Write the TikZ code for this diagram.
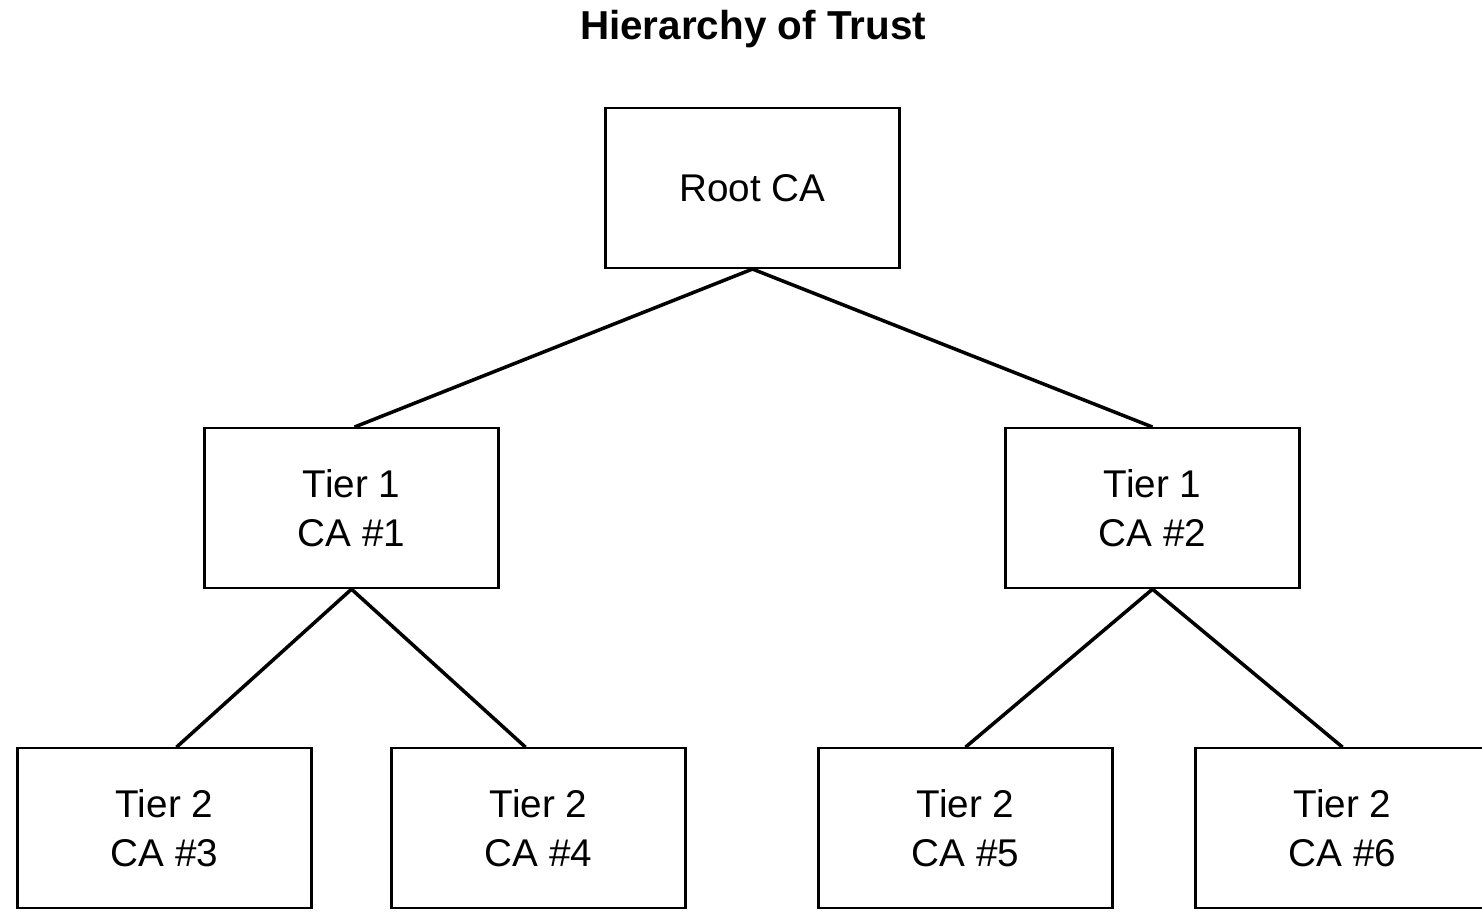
\documentclass[tikz,border=0pt]{standalone}
\usepackage{fontspec}
\setmainfont{Liberation Sans}
\usetikzlibrary{positioning}

\begin{document}
\begin{tikzpicture}[
    node distance=1.58cm,
    ca/.style={draw, rectangle, line width=0.6pt, minimum width=2.94cm, minimum height=1.6cm, inner sep=0pt, align=center, font=\fontsize{11}{14}\selectfont},
    heading/.style={font=\fontsize{11.5}{14}\selectfont\bfseries},
    link/.style={line width=1pt}
]
\useasboundingbox (0,0) rectangle (14.82,-9.13);

\node[heading] (title) at (7.53,-0.29) {Hierarchy of Trust};
\node[ca] (root) at (7.525,-1.88) {Root CA};
\node[ca, below=of root, xshift=-4.01cm] (ca1) {Tier 1\\CA \#1};
\node[ca, below=of root, xshift=4.0cm] (ca2) {Tier 1\\CA \#2};
\node[ca, below=of ca1, xshift=-1.87cm] (ca3) {Tier 2\\CA \#3};
\node[ca, below=of ca1, xshift=1.87cm] (ca4) {Tier 2\\CA \#4};
\node[ca, below=of ca2, xshift=-1.87cm] (ca5) {Tier 2\\CA \#5};
\node[ca, below=of ca2, xshift=1.9cm] (ca6) {Tier 2\\CA \#6};

\draw[link] (root.south) -- ([xshift=0.3mm]ca1.north);
\draw[link] (root.south) -- (ca2.north);
\draw[link] (ca1.south) -- ([xshift=1.2mm]ca3.north);
\draw[link] (ca1.south) -- ([xshift=-1.3mm]ca4.north);
\draw[link] (ca2.south) -- (ca5.north);
\draw[link] (ca2.south) -- (ca6.north);

\end{tikzpicture}
\end{document}
